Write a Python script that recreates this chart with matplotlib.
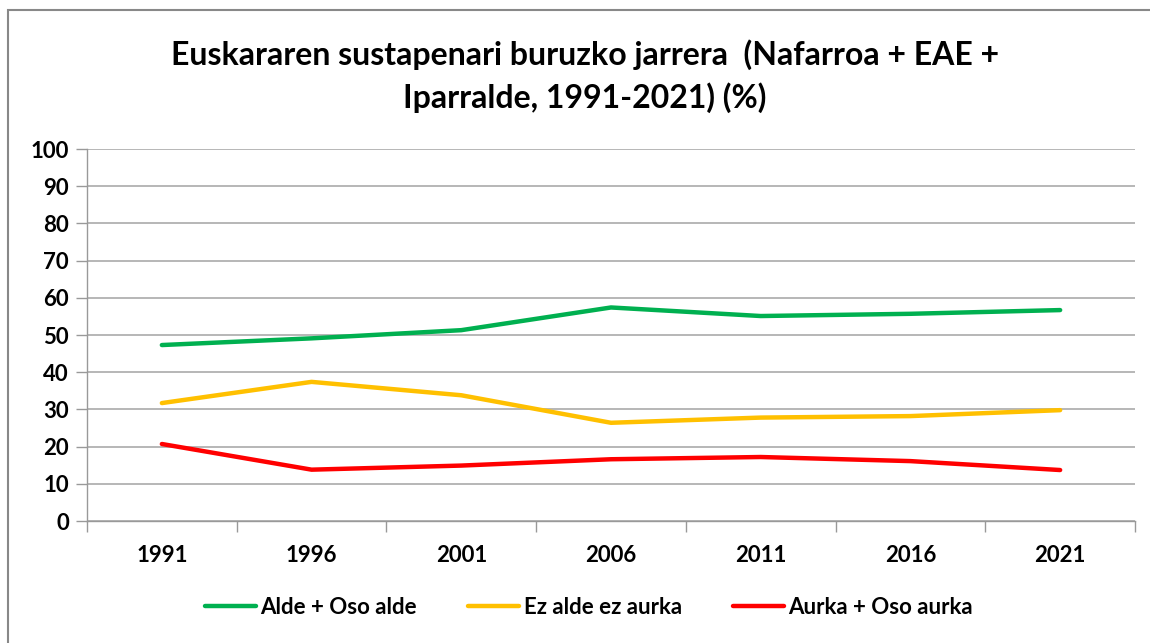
import matplotlib
matplotlib.use("Agg")
import matplotlib.pyplot as plt
from matplotlib.patches import Rectangle

years = ["1991", "1996", "2001", "2006", "2011", "2016", "2021"]
alde = [47.3, 49.1, 51.3, 57.4, 55.1, 55.7, 56.7]
neutral = [31.7, 37.4, 33.8, 26.4, 27.8, 28.2, 29.8]
aurka = [20.7, 13.8, 14.9, 16.6, 17.2, 16.1, 13.7]
yticks = list(range(0, 101, 10))

plt.rcParams['font.family'] = ['Lato', 'DejaVu Sans']

W, H = 1150, 643
fig = plt.figure(figsize=(W/100, H/100), dpi=100)
ax = fig.add_axes([87/W, 1 - 521/H, (1135-87)/W, (521-149)/H])

x = list(range(len(years)))
ax.plot(x, alde, color="#00B050", lw=3.2, solid_capstyle="round", label="Alde + Oso alde")
ax.plot(x, neutral, color="#FFC000", lw=3.2, solid_capstyle="round", label="Ez alde ez aurka")
ax.plot(x, aurka, color="#FF0000", lw=3.2, solid_capstyle="round", label="Aurka + Oso aurka")

ax.set_xlim(-0.5, len(years) - 0.5)
ax.set_ylim(0, 100)
ax.set_yticks(yticks)
ax.set_yticklabels([str(v) for v in yticks], fontsize=16, fontweight="bold")
ax.set_xticks(x)
ax.set_xticklabels(years, fontsize=16, fontweight="bold")
ax.set_xticks([i - 0.5 for i in range(len(years) + 1)], minor=True)
ax.tick_params(axis="x", which="major", length=0, pad=17)
ax.tick_params(axis="x", which="minor", length=8, color="#999999", width=1)
ax.tick_params(axis="y", length=8, color="#999999", width=1, pad=5)
ax.grid(axis="y", color="#AAAAAA", lw=1.2)
ax.set_axisbelow(True)
for s in ["top", "right"]:
    ax.spines[s].set_visible(False)
for s in ["left", "bottom"]:
    ax.spines[s].set_color("#999999")
    ax.spines[s].set_linewidth(1)

fig.text(585/W, 1 - 55/H, "Euskararen sustapenari buruzko jarrera  (Nafarroa + EAE +",
         ha="center", va="center", fontsize=23, fontweight="bold")
fig.text(585/W, 1 - 98/H, "Iparralde, 1991-2021) (%)",
         ha="center", va="center", fontsize=23, fontweight="bold")

leg = fig.legend(loc="center", bbox_to_anchor=(589/W, 1 - 607/H), ncol=3, frameon=False,
                 prop={"size": 16, "weight": "bold"}, handlelength=2.3, handletextpad=0.2,
                 columnspacing=2.3)

fig.patches.append(Rectangle((8/W, -0.1), 1.2, 1 - 10/H + 0.1, transform=fig.transFigure,
                             fill=False, edgecolor="#888888", lw=1.5))

fig.savefig("out.png", dpi=100)
